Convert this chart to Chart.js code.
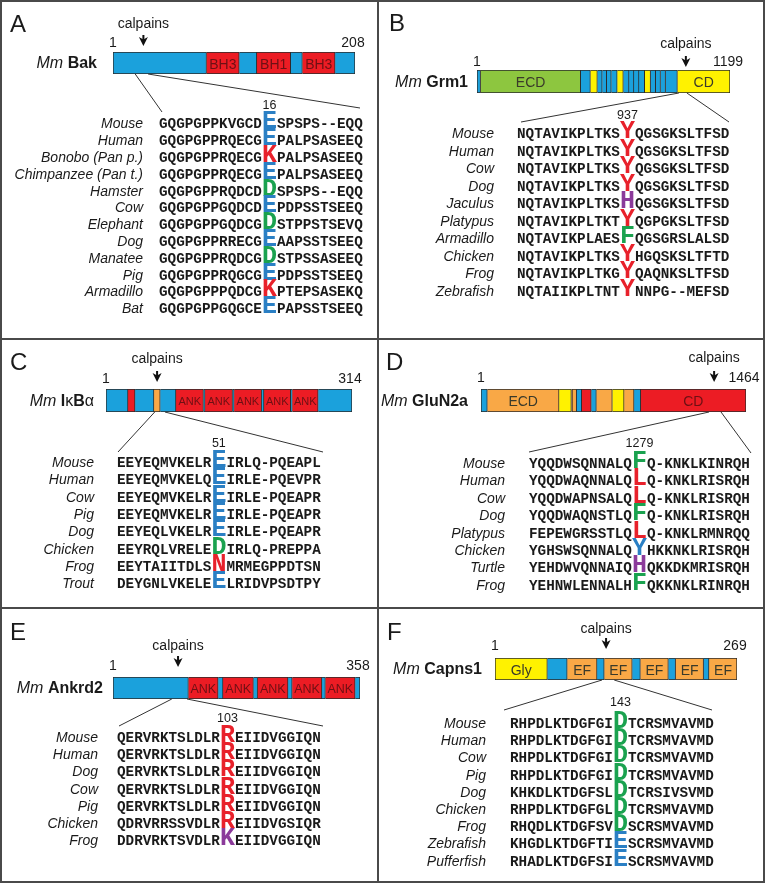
<!DOCTYPE html>
<html>
<head>
<meta charset="utf-8">
<script src="https://cdn.jsdelivr.net/npm/chart.js@4.4.1/dist/chart.umd.min.js"></script>
<style>
  body { margin: 0; background: #fff; }
  #fig { position: relative; width: 768px; height: 884px; overflow: hidden;
         font-family: "Liberation Sans", Arial, sans-serif; color: #1a1a1a; }
  .panel { position: absolute; }
  .panel canvas { position: absolute; left: 0; top: 0; }
  .t { position: absolute; white-space: nowrap; line-height: 1; }
  .letter { font-size: 24px; }
  .title { font-size: 16px; }
  .num { font-size: 14px; }
  .calp { font-size: 14px; }
  .site { font-size: 12.5px; }
  .name { font-style: italic; font-size: 14px; }
  .seq { font-family: "Liberation Mono", "Courier New", monospace; font-weight: bold;
         font-size: 14.3px; line-height: 16px; }
  .big { font-size: 25px; line-height: 0; }
  .rule { position: absolute; background: #4a4a4a; }
</style>
</head>
<body>
<div id="fig"></div>
<script>
// ---- A: Mm Bak ----
const bakLength = 208
const bakStarts = [1, 81, 109, 124, 153, 163, 191]
const bakEnds = [81, 109, 124, 153, 163, 191, 208]
const bakKinds = ['blue', 'red', 'blue', 'red', 'blue', 'red', 'blue']
const bakDomains = ['', 'BH3', '', 'BH1', '', 'BH3', '']
const bakCut = 27
const bakWindow = [20, 31]
const bakSite = 16
const bakMarkIndex = 12
const bakSpecies = ['Mouse', 'Human', 'Bonobo (Pan p.)', 'Chimpanzee (Pan t.)', 'Hamster', 'Cow',
  'Elephant', 'Dog', 'Manatee', 'Pig', 'Armadillo', 'Bat']
const bakSeqs = ['GQGPGPPKVGCDESPSPS--EQQ', 'GQGPGPPRQECGEPALPSASEEQ', 'GQGPGPPRQECGKPALPSASEEQ',
  'GQGPGPPRQECGEPALPSASEEQ', 'GQGPGPPRQDCDDSPSPS--EQQ', 'GQGPGPPGQDCDEPDPSSTSEEQ',
  'GQGPGPPGQDCGDSTPPSTSEVQ', 'GQGPGPPRRECGEAAPSSTSEEQ', 'GQGPGPPRQDCGDSTPSSASEEQ',
  'GQGPGPPRQGCGEPDPSSTSEEQ', 'GQGPGPPPQDCGKPTEPSASEKQ', 'GQGPGPPGQGCEEPAPSSTSEEQ']
const bakMarks = ['blue', 'blue', 'red', 'blue', 'green', 'blue', 'green', 'blue', 'green', 'blue', 'red', 'blue']

// ---- B: Mm Grm1 ----
const grmLength = 1199
const grmStarts = [1, 18, 492, 538, 571, 594, 615, 637, 665, 694, 721, 744, 768, 795, 823, 847, 870, 894, 950]
const grmEnds = [18, 492, 538, 571, 594, 615, 637, 665, 694, 721, 744, 768, 795, 823, 847, 870, 894, 950, 1199]
const grmKinds = ['blue', 'green', 'blue', 'yellow', 'blue', 'blue', 'blue', 'blue', 'yellow', 'blue',
  'blue', 'blue', 'blue', 'yellow', 'blue', 'blue', 'blue', 'blue', 'yellow']
const grmDomains = ['', 'ECD', '', '', '', '', '', '', '', '', '', '', '', '', '', '', '', '', 'CD']
const grmCut = 990
const grmWindow = [957, 995]
const grmSite = 937
const grmMarkIndex = 12
const grmSpecies = ['Mouse', 'Human', 'Cow', 'Dog', 'Jaculus', 'Platypus', 'Armadillo', 'Chicken', 'Frog', 'Zebrafish']
const grmSeqs = ['NQTAVIKPLTKSYQGSGKSLTFSD', 'NQTAVIKPLTKSYQGSGKSLTFSD', 'NQTAVIKPLTKSYQGSGKSLTFSD',
  'NQTAVIKPLTKSYQGSGKSLTFSD', 'NQTAVIKPLTKSHQGSGKSLTFSD', 'NQTAVIKPLTKTYQGPGKSLTFSD',
  'NQTAVIKPLAESFQGSGRSLALSD', 'NQTAVIKPLTKSYHGQSKSLTFTD', 'NQTAVIKPLTKGYQAQNKSLTFSD',
  'NQTAIIKPLTNTYNNPG--MEFSD']
const grmMarks = ['red', 'red', 'red', 'red', 'purple', 'red', 'green', 'red', 'red', 'red']

// ---- C: Mm IkBa ----
const ikbLength = 314
const ikbStarts = [1, 29, 38, 62, 70, 90, 125, 127, 162, 164, 199, 202, 236, 238, 271]
const ikbEnds = [29, 38, 62, 70, 90, 125, 127, 162, 164, 199, 202, 236, 238, 271, 314]
const ikbKinds = ['blue', 'red', 'blue', 'orange', 'blue', 'red', 'blue', 'red', 'blue', 'red',
  'blue', 'red', 'blue', 'red', 'blue']
const ikbDomains = ['', '', '', '', '', 'ANK', '', 'ANK', '', 'ANK', '', 'ANK', '', 'ANK', '']
const ikbCut = 66
const ikbWindow = [63, 76]
const ikbSite = 51
const ikbMarkIndex = 11
const ikbSpecies = ['Mouse', 'Human', 'Cow', 'Pig', 'Dog', 'Chicken', 'Frog', 'Trout']
const ikbSeqs = ['EEYEQMVKELREIRLQ-PQEAPL', 'EEYEQMVKELQEIRLE-PQEVPR', 'EEYEQMVKELREIRLE-PQEAPR',
  'EEYEQMVKELREIRLE-PQEAPR', 'EEYEQLVKELREIRLE-PQEAPR', 'EEYRQLVRELEDIRLQ-PREPPA',
  'EEYTAIITDLSNMRMEGPPDTSN', 'DEYGNLVKELEELRIDVPSDTPY']
const ikbMarks = ['blue', 'blue', 'blue', 'blue', 'blue', 'green', 'red', 'blue']

// ---- D: Mm GluN2a ----
const gluLength = 1464
const gluStarts = [1, 36, 432, 500, 507, 529, 557, 610, 638, 726, 791, 846, 883]
const gluEnds = [36, 432, 500, 507, 529, 557, 610, 638, 726, 791, 846, 883, 1464]
const gluKinds = ['blue', 'orange', 'yellow', 'orange', 'orange', 'blue', 'red', 'blue', 'orange',
  'yellow', 'orange', 'blue', 'red']
const gluDomains = ['', 'ECD', '', '', '', '', '', '', '', '', '', '', 'CD']
const gluCut = 1288
const gluWindow = [1260, 1326]
const gluSite = 1279
const gluMarkIndex = 12
const gluSpecies = ['Mouse', 'Human', 'Cow', 'Dog', 'Platypus', 'Chicken', 'Turtle', 'Frog']
const gluSeqs = ['YQQDWSQNNALQFQ-KNKLKINRQH', 'YQQDWAQNNALQLQ-KNKLRISRQH', 'YQQDWAPNSALQLQ-KNKLRISRQH',
  'YQQDWAQNSTLQFQ-KNKLRISRQH', 'FEPEWGRSSTLQLQ-KNKLRMNRQQ', 'YGHSWSQNNALQYHKKNKLRISRQH',
  'YEHDWVQNNAIQHQKKDKMRISRQH', 'YEHNWLENNALHFQKKNKLRINRQH']
const gluMarks = ['green', 'red', 'red', 'green', 'red', 'blue', 'purple', 'green']

// ---- E: Mm Ankrd2 ----
const ankLength = 358
const ankStarts = [1, 110, 153, 160, 204, 210, 254, 260, 303, 308, 351]
const ankEnds = [110, 153, 160, 204, 210, 254, 260, 303, 308, 351, 358]
const ankKinds = ['blue', 'red', 'blue', 'red', 'blue', 'red', 'blue', 'red', 'blue', 'red', 'blue']
const ankDomains = ['', 'ANK', '', 'ANK', '', 'ANK', '', 'ANK', '', 'ANK', '']
const ankCut = 95
const ankWindow = [86, 108]
const ankSite = 103
const ankMarkIndex = 12
const ankSpecies = ['Mouse', 'Human', 'Dog', 'Cow', 'Pig', 'Chicken', 'Frog']
const ankSeqs = ['QERVRKTSLDLRREIIDVGGIQN', 'QERVRKTSLDLRREIIDVGGIQN', 'QERVRKTSLDLRREIIDVGGIQN',
  'QERVRKTSLDLRREIIDVGGIQN', 'QERVRKTSLDLRREIIDVGGIQN', 'QDRVRRSSVDLRREIIDVGSIQR',
  'DDRVRKTSVDLRKEIIDVGGIQN']
const ankMarks = ['red', 'red', 'red', 'red', 'red', 'red', 'purple']

// ---- F: Mm Capns1 ----
const capLength = 269
const capStarts = [1, 59, 81, 114, 122, 153, 162, 193, 201, 232, 238]
const capEnds = [59, 81, 114, 122, 153, 162, 193, 201, 232, 238, 269]
const capKinds = ['yellow', 'blue', 'orange', 'blue', 'orange', 'blue', 'orange', 'blue', 'orange', 'blue', 'orange']
const capDomains = ['Gly', '', 'EF', '', 'EF', '', 'EF', '', 'EF', '', 'EF']
const capCut = 124
const capWindow = [119.5, 133]
const capSite = 143
const capMarkIndex = 12
const capSpecies = ['Mouse', 'Human', 'Cow', 'Pig', 'Dog', 'Chicken', 'Frog', 'Zebrafish', 'Pufferfish']
const capSeqs = ['RHPDLKTDGFGIDTCRSMVAVMD', 'RHPDLKTDGFGIDTCRSMVAVMD', 'RHPDLKTDGFGIDTCRSMVAVMD',
  'RHPDLKTDGFGIDTCRSMVAVMD', 'KHKDLKTDGFSLDTCRSIVSVMD', 'RHPDLKTDGFGLDTCRSMVAVMD',
  'RHQDLKTDGFSVDSCRSMVAVMD', 'KHGDLKTDGFTIESCRSMVAVMD', 'RHADLKTDGFSIESCRSMVAVMD']
const capMarks = ['green', 'green', 'green', 'green', 'green', 'green', 'green', 'blue', 'blue']

const domainColors = { blue: '#1ba1dc', red: '#ec1c24', green: '#8dc63f', yellow: '#fff200', orange: '#f9a846' }
const residueColors = { blue: '#2a7fc4', red: '#e8212b', green: '#1aa24f', purple: '#8b3a9a' }

const panels = [
  { letter: 'A', frame: { x: 0, y: 0, w: 378, h: 339 }, bar: { x0: 113, x1: 355, y0: 52, y1: 74 },
    letterAt: [10, 24], nameRight: 97, calpainsY: 23, arrowTop: 35, numY: 42, siteY: 105,
    alignNameRight: 143, seqLeft: 159, row0: 123.3, step: 16.8, lineL: [162, 112], lineR: [360, 108], labelSize: 14,
    title: '<i>Mm</i> <b>Bak</b>', length: bakLength, starts: bakStarts, ends: bakEnds, kinds: bakKinds,
    domains: bakDomains, cut: bakCut, window: bakWindow, site: bakSite, markIndex: bakMarkIndex,
    species: bakSpecies, seqs: bakSeqs, marks: bakMarks },
  { letter: 'B', frame: { x: 378, y: 0, w: 388, h: 339 }, bar: { x0: 477, x1: 730, y0: 70, y1: 93 },
    letterAt: [389, 23], nameRight: 468, calpainsY: 43, arrowTop: 56, numY: 61, siteY: 115,
    alignNameRight: 494, seqLeft: 517, row0: 133, step: 17.5, lineL: [521, 122], lineR: [729, 122], labelSize: 14,
    title: '<i>Mm</i> <b>Grm1</b>', length: grmLength, starts: grmStarts, ends: grmEnds, kinds: grmKinds,
    domains: grmDomains, cut: grmCut, window: grmWindow, site: grmSite, markIndex: grmMarkIndex,
    species: grmSpecies, seqs: grmSeqs, marks: grmMarks },
  { letter: 'C', frame: { x: 0, y: 339, w: 378, h: 269 }, bar: { x0: 106, x1: 352, y0: 389, y1: 412 },
    letterAt: [10, 362], nameRight: 94, calpainsY: 358, arrowTop: 371, numY: 378, siteY: 443,
    alignNameRight: 94, seqLeft: 117, row0: 462, step: 17.3, lineL: [118, 452], lineR: [323, 452], labelSize: 11,
    title: '<i>Mm</i> <b>I</b>κ<b>B</b>α', length: ikbLength, starts: ikbStarts, ends: ikbEnds, kinds: ikbKinds,
    domains: ikbDomains, cut: ikbCut, window: ikbWindow, site: ikbSite, markIndex: ikbMarkIndex,
    species: ikbSpecies, seqs: ikbSeqs, marks: ikbMarks },
  { letter: 'D', frame: { x: 378, y: 339, w: 388, h: 269 }, bar: { x0: 481, x1: 746, y0: 389, y1: 412 },
    letterAt: [386, 362], nameRight: 468, calpainsY: 357, arrowTop: 371, numY: 377, siteY: 443,
    alignNameRight: 505, seqLeft: 529, row0: 463, step: 17.4, lineL: [529, 452], lineR: [751, 453], labelSize: 14,
    title: '<i>Mm</i> <b>GluN2a</b>', length: gluLength, starts: gluStarts, ends: gluEnds, kinds: gluKinds,
    domains: gluDomains, cut: gluCut, window: gluWindow, site: gluSite, markIndex: gluMarkIndex,
    species: gluSpecies, seqs: gluSeqs, marks: gluMarks },
  { letter: 'E', frame: { x: 0, y: 608, w: 378, h: 276 }, bar: { x0: 113, x1: 360, y0: 677, y1: 699 },
    letterAt: [10, 632], nameRight: 103, calpainsY: 645, arrowTop: 656, numY: 665, siteY: 718,
    alignNameRight: 98, seqLeft: 117, row0: 737, step: 17.2, lineL: [119, 726], lineR: [323, 726], labelSize: 12.5,
    title: '<i>Mm</i> <b>Ankrd2</b>', length: ankLength, starts: ankStarts, ends: ankEnds, kinds: ankKinds,
    domains: ankDomains, cut: ankCut, window: ankWindow, site: ankSite, markIndex: ankMarkIndex,
    species: ankSpecies, seqs: ankSeqs, marks: ankMarks },
  { letter: 'F', frame: { x: 378, y: 608, w: 388, h: 276 }, bar: { x0: 495, x1: 737, y0: 658, y1: 680 },
    letterAt: [387, 632], nameRight: 482, calpainsY: 628, arrowTop: 638, numY: 645, siteY: 702,
    alignNameRight: 486, seqLeft: 510, row0: 723, step: 17.2, lineL: [504, 710], lineR: [712, 710], labelSize: 14,
    title: '<i>Mm</i> <b>Capns1</b>', length: capLength, starts: capStarts, ends: capEnds, kinds: capKinds,
    domains: capDomains, cut: capCut, window: capWindow, site: capSite, markIndex: capMarkIndex,
    species: capSpecies, seqs: capSeqs, marks: capMarks }
]

// arrow + zoom lines drawn from the chart's own x scale
const callout = {
  id: 'callout',
  afterDraw(chart, args, opts) {
    const { ctx, chartArea } = chart
    const x = chart.scales.x
    const ax = x.getPixelForValue(opts.cut)
    const top = opts.arrowTop
    ctx.save()
    ctx.strokeStyle = '#111'
    ctx.fillStyle = '#111'
    ctx.lineWidth = 2
    ctx.beginPath()
    ctx.moveTo(ax, top)
    ctx.lineTo(ax, top + 5)
    ctx.stroke()
    ctx.beginPath()
    ctx.moveTo(ax - 4.5, top + 2)
    ctx.lineTo(ax, top + 4.5)
    ctx.lineTo(ax + 4.5, top + 2)
    ctx.lineTo(ax, top + 11)
    ctx.closePath()
    ctx.fill()

    ctx.lineWidth = 1
    ctx.strokeStyle = '#333'
    ctx.beginPath()
    ctx.moveTo(x.getPixelForValue(opts.window[0]), chartArea.bottom)
    ctx.lineTo(opts.lineL[0], opts.lineL[1])
    ctx.moveTo(x.getPixelForValue(opts.window[1]), chartArea.bottom)
    ctx.lineTo(opts.lineR[0], opts.lineR[1])
    ctx.stroke()
    ctx.restore()
  }
}

const fig = document.getElementById('fig')

const addText = (parent, html, x, y, align, cls, style) => {
  const el = document.createElement('div')
  el.className = 't ' + cls
  el.innerHTML = html
  el.style.left = x + 'px'
  el.style.top = y + 'px'
  const tx = align === 'left' ? '0' : align === 'center' ? '-50%' : '-100%'
  el.style.transform = `translate(${tx}, -50%)`
  if (style) Object.assign(el.style, style)
  parent.appendChild(el)
  return el
}

panels.forEach(p => {
  const f = p.frame
  const div = document.createElement('div')
  div.className = 'panel'
  Object.assign(div.style, { left: f.x + 'px', top: f.y + 'px', width: f.w + 'px', height: f.h + 'px' })
  fig.appendChild(div)

  const canvas = document.createElement('canvas')
  canvas.width = f.w
  canvas.height = f.h
  canvas.style.width = f.w + 'px'
  canvas.style.height = f.h + 'px'
  div.appendChild(canvas)

  // one floating bar per domain segment, all on the same category row
  const datasets = p.starts.map((s, i) => ({
    data: [[s, p.ends[i]]],
    backgroundColor: domainColors[p.kinds[i]],
    borderColor: '#2b2b2b',
    borderWidth: 1,
    borderSkipped: i === 0 ? false : 'left',
    grouped: false,
    barPercentage: 1,
    categoryPercentage: 1
  }))

  const chart = new Chart(canvas, {
    type: 'bar',
    data: { labels: [p.letter], datasets: datasets },
    options: {
      indexAxis: 'y',
      responsive: false,
      maintainAspectRatio: false,
      animation: false,
      events: [],
      layout: {
        padding: {
          left: p.bar.x0 - f.x,
          right: f.x + f.w - p.bar.x1,
          top: p.bar.y0 - f.y,
          bottom: f.y + f.h - p.bar.y1
        }
      },
      scales: {
        x: { type: 'linear', min: 1, max: p.length, display: false },
        y: { display: false }
      },
      plugins: {
        legend: { display: false },
        tooltip: { enabled: false },
        callout: {
          cut: p.cut,
          window: p.window,
          arrowTop: p.arrowTop - f.y,
          lineL: [p.lineL[0] - f.x, p.lineL[1] - f.y],
          lineR: [p.lineR[0] - f.x, p.lineR[1] - f.y]
        }
      }
    },
    plugins: [callout]
  })

  const xs = chart.scales.x
  const barMid = (p.bar.y0 + p.bar.y1) / 2 - f.y
  const ax = xs.getPixelForValue(p.cut)

  addText(div, p.letter, p.letterAt[0] - f.x, p.letterAt[1] - f.y, 'left', 'letter')
  addText(div, 'calpains', ax, p.calpainsY - f.y, 'center', 'calp')
  addText(div, '1', xs.getPixelForValue(1), p.numY - f.y, 'center', 'num')
  addText(div, String(p.length), xs.getPixelForValue(p.length) - 2, p.numY - f.y, 'center', 'num')
  addText(div, p.title, p.nameRight - f.x, barMid, 'right', 'title')

  p.domains.forEach((d, i) => {
    if (!d) return
    const cx = (xs.getPixelForValue(p.starts[i]) + xs.getPixelForValue(p.ends[i])) / 2
    const onRed = p.kinds[i] === 'red'
    addText(div, d, cx, barMid + 0.5, 'center', 'dom',
      { fontSize: p.labelSize + 'px', color: onRed ? '#6e1014' : '#3a3a2a' })
  })

  let firstBig = null
  p.species.forEach((sp, i) => {
    const y = p.row0 + i * p.step - f.y
    addText(div, sp, p.alignNameRight - f.x, y, 'right', 'name')
    const s = p.seqs[i]
    const k = p.markIndex
    const html = s.slice(0, k) +
      `<span class="big" style="color:${residueColors[p.marks[i]]}">${s[k]}</span>` + s.slice(k + 1)
    const el = addText(div, html, p.seqLeft - f.x, y + 1, 'left', 'seq')
    if (!firstBig) firstBig = el.querySelector('.big')
  })

  const dr = div.getBoundingClientRect()
  const br = firstBig.getBoundingClientRect()
  addText(div, String(p.site), br.left + br.width / 2 - dr.left, p.siteY - f.y, 'center', 'site')
})

// frame and dividers
const rules = [
  [0, 0, 765, 2], [0, 881, 765, 2], [0, 0, 2, 883], [763, 0, 2, 883],
  [377, 0, 2, 883], [0, 338, 765, 2], [0, 607, 765, 2]
]
rules.forEach(r => {
  const el = document.createElement('div')
  el.className = 'rule'
  Object.assign(el.style, { left: r[0] + 'px', top: r[1] + 'px', width: r[2] + 'px', height: r[3] + 'px' })
  fig.appendChild(el)
})
</script>
</body>
</html>
